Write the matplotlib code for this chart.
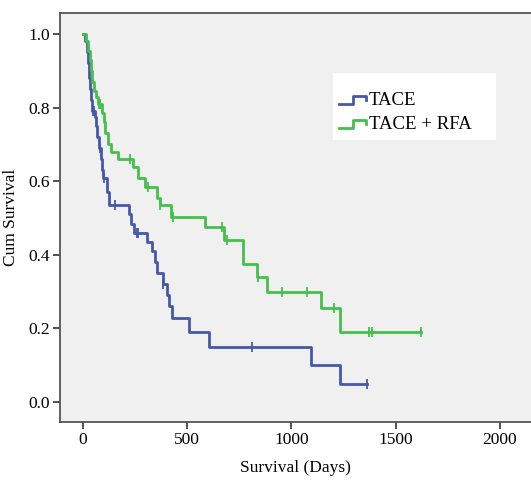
import matplotlib
matplotlib.use('Agg')
import matplotlib.pyplot as plt
from matplotlib.lines import Line2D
from matplotlib.patches import Rectangle
from matplotlib.legend_handler import HandlerBase
import numpy as np

# Kaplan-Meier step data (time in days, survival after the step)
tace_t = [0, 12, 18, 22, 28, 33, 38, 45, 58, 64, 68, 78, 88, 93, 98, 115, 125,
          221, 230, 245, 307, 331, 345, 355, 384, 405, 415, 427, 508, 604, 1094, 1233]
tace_s = [1.0, 0.98, 0.95, 0.92, 0.88, 0.85, 0.82, 0.79, 0.775, 0.75, 0.72, 0.69,
          0.66, 0.63, 0.61, 0.57, 0.535, 0.51, 0.485, 0.46, 0.435, 0.41, 0.38,
          0.35, 0.32, 0.29, 0.26, 0.228, 0.19, 0.15, 0.10, 0.05]
tace_cens = [48, 55, 82, 100, 153, 259, 265, 386, 811, 1362]

rfa_t = [0, 14, 24, 35, 40, 45, 55, 62, 72, 90, 100, 106, 120, 134, 168, 240, 264,
         300, 355, 369, 420, 585, 676, 767, 835, 882, 1141, 1233]
rfa_s = [1.0, 0.98, 0.955, 0.93, 0.90, 0.87, 0.845, 0.83, 0.81, 0.785, 0.76, 0.73,
         0.70, 0.68, 0.66, 0.64, 0.61, 0.585, 0.555, 0.535, 0.503, 0.475, 0.44,
         0.375, 0.34, 0.30, 0.255, 0.19]
rfa_cens = [75, 80, 225, 312, 372, 432, 667, 690, 840, 954, 1074, 1204, 1372, 1386, 1621]

labels = ['TACE', 'TACE + RFA']
colors = ['#4658a8', '#45bf4c']


class HandlerStep(HandlerBase):
    # small step-shaped legend icon, like SPSS draws it
    def create_artists(self, legend, orig_handle, xdescent, ydescent,
                       width, height, fontsize, trans):
        x0, y0 = -xdescent, -ydescent
        xs = [x0, x0 + 0.5 * width, x0 + 0.5 * width, x0 + width, x0 + width]
        ys = [y0 + 0.1 * height, y0 + 0.1 * height, y0 + 0.7 * height,
              y0 + 0.7 * height, y0 + 0.4 * height]
        ln = Line2D(xs, ys, color=orig_handle.get_color(), lw=2, transform=trans)
        return [ln]


plt.rcParams['font.family'] = ['Liberation Serif', 'DejaVu Serif']

W, H = 531, 484
fig = plt.figure(figsize=(W / 100, H / 100), dpi=100)
ax = fig.add_axes([60 / W, 62 / H, 1 - 60 / W, 409 / H])
ax.set_facecolor('#f0f0f0')

handles = []
for t, s, cens, col in [(tace_t, tace_s, tace_cens, colors[0]),
                        (rfa_t, rfa_s, rfa_cens, colors[1])]:
    end = max(cens)
    tt = list(t) + [end]
    ss = list(s) + [s[-1]]
    h, = ax.step(tt, ss, where='post', color=col, lw=2)
    handles.append(h)
    idx = np.searchsorted(t, cens, side='right') - 1
    ax.plot(cens, np.array(s)[idx], linestyle='none', marker='|',
            markersize=7, mew=1.3, color=col)

ax.set_xlim(-110, 2149)
ax.set_ylim(-0.054, 1.057)
ax.set_xticks([0, 500, 1000, 1500, 2000])
ax.set_yticks([0.0, 0.2, 0.4, 0.6, 0.8, 1.0])
ax.set_yticklabels(['0.0', '0.2', '0.4', '0.6', '0.8', '1.0'])
ax.tick_params(labelsize=12.5, length=5, width=1.2, color='#333333', pad=2)
ax.spines['right'].set_visible(False)
for sp in ['left', 'top', 'bottom']:
    ax.spines[sp].set_color('#555555')
    ax.spines[sp].set_linewidth(1.3)

ax.set_xlabel('Survival (Days)', fontsize=12.5, labelpad=9)
ax.set_ylabel('Cum Survival', fontsize=12.5, labelpad=7)

# white legend box
fig.patches.append(Rectangle((333 / W, 1 - 140 / H), 163 / W, 67 / H,
                             transform=fig.transFigure, facecolor='white',
                             edgecolor='none', zorder=2))

leg = fig.legend(handles, labels, handler_map={Line2D: HandlerStep()},
                 loc='upper left', bbox_to_anchor=(339 / W, 1 - 92 / H),
                 borderaxespad=0, borderpad=0, frameon=False, fontsize=13.5,
                 handlelength=1.45, handletextpad=0.15, labelspacing=0.35)
leg.set_zorder(3)

plt.savefig('out.png', dpi=100)
